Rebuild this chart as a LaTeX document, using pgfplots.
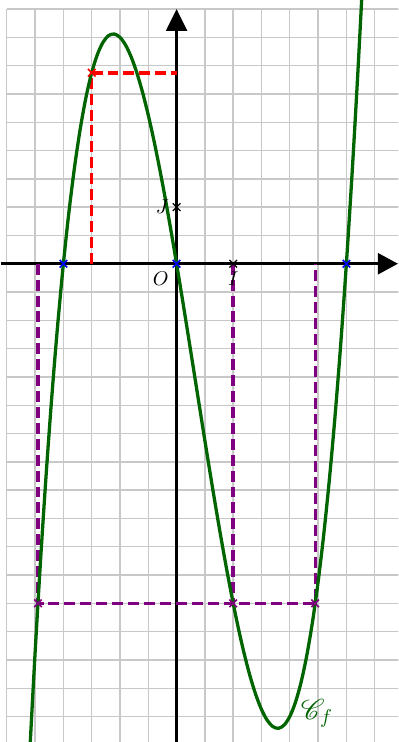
\documentclass[border=0pt]{standalone}
\usepackage{pgfplots}
\pgfplotsset{compat=1.18}
\usepackage{mathrsfs}
\usetikzlibrary{arrows.meta}
\definecolor{cgreen}{RGB}{0,100,0}
\definecolor{cpurple}{RGB}{128,0,128}
\definecolor{cgrid}{RGB}{200,200,200}
\begin{document}
\begin{tikzpicture}
\begin{axis}[x=1cm,y=1cm, xmin=-3.12, xmax=3.92, ymin=-8.45, ymax=4.66, hide axis, clip=true]
% grid
\pgfplotsinvokeforeach{-3,-2.5,...,4}{\draw[cgrid, line width=0.7pt] (axis cs:#1,-8.5) -- (axis cs:#1,4.5);}
\pgfplotsinvokeforeach{-8.5,-8,...,4.5}{\draw[cgrid, line width=0.7pt] (axis cs:-3,#1) -- (axis cs:4,#1);}
% axes
\draw[black, line width=1.3pt, -{Triangle[length=10pt,width=10.5pt]}] (axis cs:-3.1,0) -- (axis cs:3.91,0);
\draw[black, line width=1.3pt, -{Triangle[length=11pt,width=10.5pt]}] (axis cs:0,-8.5) -- (axis cs:0,4.5);
% dashed construction lines
\addplot[red, line width=1.8pt, dash pattern=on 5.5pt off 2.5pt] coordinates {(-1.5,0) (-1.5,3.375) (0,3.375)};
\addplot[cpurple, line width=1.7pt, dash pattern=on 5.5pt off 2.5pt] coordinates {(-2.449,0) (-2.449,-6) (2.449,-6) (2.449,0)};
\addplot[cpurple, line width=1.7pt, dash pattern=on 5.5pt off 2.5pt] coordinates {(1,0) (1,-6)};
% curve
\addplot[cgreen, line width=1.65pt, smooth] coordinates {
(-2.6,-8.736) (-2.5,-6.875) (-2.4,-5.184) (-2.3,-3.657) (-2.2,-2.288) (-2.1,-1.071)
(-2.0,0) (-1.9,0.931) (-1.8,1.728) (-1.7,2.397) (-1.6,2.944) (-1.5,3.375)
(-1.4,3.696) (-1.3,3.913) (-1.2,4.032) (-1.1,4.059) (-1.0,4) (-0.9,3.861)
(-0.8,3.648) (-0.7,3.367) (-0.6,3.024) (-0.5,2.625) (-0.4,2.176) (-0.3,1.683)
(-0.2,1.152) (-0.1,0.589) (0,0) (0.1,-0.609) (0.2,-1.232) (0.3,-1.863)
(0.4,-2.496) (0.5,-3.125) (0.6,-3.744) (0.7,-4.347) (0.8,-4.928) (0.9,-5.481)
(1.0,-6) (1.1,-6.479) (1.2,-6.912) (1.3,-7.293) (1.4,-7.616) (1.5,-7.875)
(1.6,-8.064) (1.7,-8.177) (1.8,-8.208) (1.9,-8.151) (2.0,-8) (2.1,-7.749)
(2.2,-7.392) (2.3,-6.923) (2.4,-6.336) (2.5,-5.625) (2.6,-4.784) (2.7,-3.807)
(2.8,-2.688) (2.9,-1.421) (3.0,0) (3.1,1.581) (3.2,3.328) (3.3,5.247)};
% marks
\addplot[only marks, mark=x, mark size=2.7pt, red, line width=0.8pt] coordinates {(-1.5,3.375)};
\addplot[only marks, mark=x, mark size=2.7pt, cpurple, line width=0.8pt] coordinates {(-2.449,-6) (1,-6) (2.449,-6)};
\addplot[only marks, mark=x, mark size=2.7pt, black, line width=0.6pt] coordinates {(1,0) (0,1)};
\addplot[only marks, mark=x, mark size=2.7pt, blue, line width=0.8pt] coordinates {(-2,0) (0,0) (3,0)};
% labels
\node at (axis cs:-0.28,-0.27) {$O$};
\node at (axis cs:1.0,-0.27) {$I$};
\node at (axis cs:-0.25,1.0) {$J$};
\node[cgreen, anchor=base west, inner sep=0pt] at (axis cs:2.19,-8.05) {\Large$\mathscr{C}_f$};
\coordinate (SW) at (rel axis cs:0,0);
\coordinate (NE) at (rel axis cs:1,1);
\end{axis}
\pgfresetboundingbox
\path (SW) rectangle (NE);
\end{tikzpicture}
\end{document}
